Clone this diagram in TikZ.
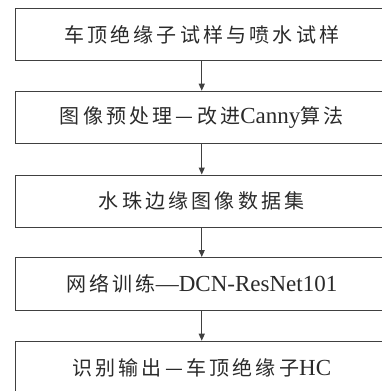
\documentclass[tikz,border=0pt]{standalone}
\usepackage{fontspec}
\setmainfont{Liberation Serif}
% CJK text at a smaller relative size, with open tracking
\newfontfamily\cjk[Scale=0.87,LetterSpace=16]{Noto Sans CJK SC}
\usetikzlibrary{arrows.meta}
\definecolor{linegray}{HTML}{404040}
\definecolor{textgray}{HTML}{2A2A2A}
\tikzset{
  x=1pt, y=-1pt,
  stepbox/.style={draw=linegray, line width=1.2pt, minimum width=372.5pt,
    minimum height=52.5pt, inner sep=0pt, anchor=north, text=textgray,
    font=\fontsize{23}{25}\selectfont},
  flow/.style={draw=linegray, line width=1.2pt,
    -{Triangle[width=6pt,length=7pt]}}
}
\begin{document}
\begin{tikzpicture}
\useasboundingbox (0,0) rectangle (382,391);
\begin{scope}
\clip (0,0) rectangle (382,391);
\node[stepbox] (b1) at (201.75,7.5)   {\cjk 车顶绝缘子试样与喷水试样};
\node[stepbox] (b2) at (201.75,90.7)  {{\cjk 图像预处理—改进}Canny{\cjk 算法}};
\node[stepbox] (b3) at (201.75,174.5) {\cjk 水珠边缘图像数据集};
\node[stepbox] (b4) at (201.75,257)   {{\cjk 网络训练}—DCN-ResNet101};
\node[stepbox] (b5) at (201.75,340.7) {{\cjk 识别输出—车顶绝缘子}HC};
\foreach \a/\b in {b1/b2,b2/b3,b3/b4,b4/b5}
  \draw[flow] (\a.south) -- (\b.north);
\end{scope}
\end{tikzpicture}
\end{document}
